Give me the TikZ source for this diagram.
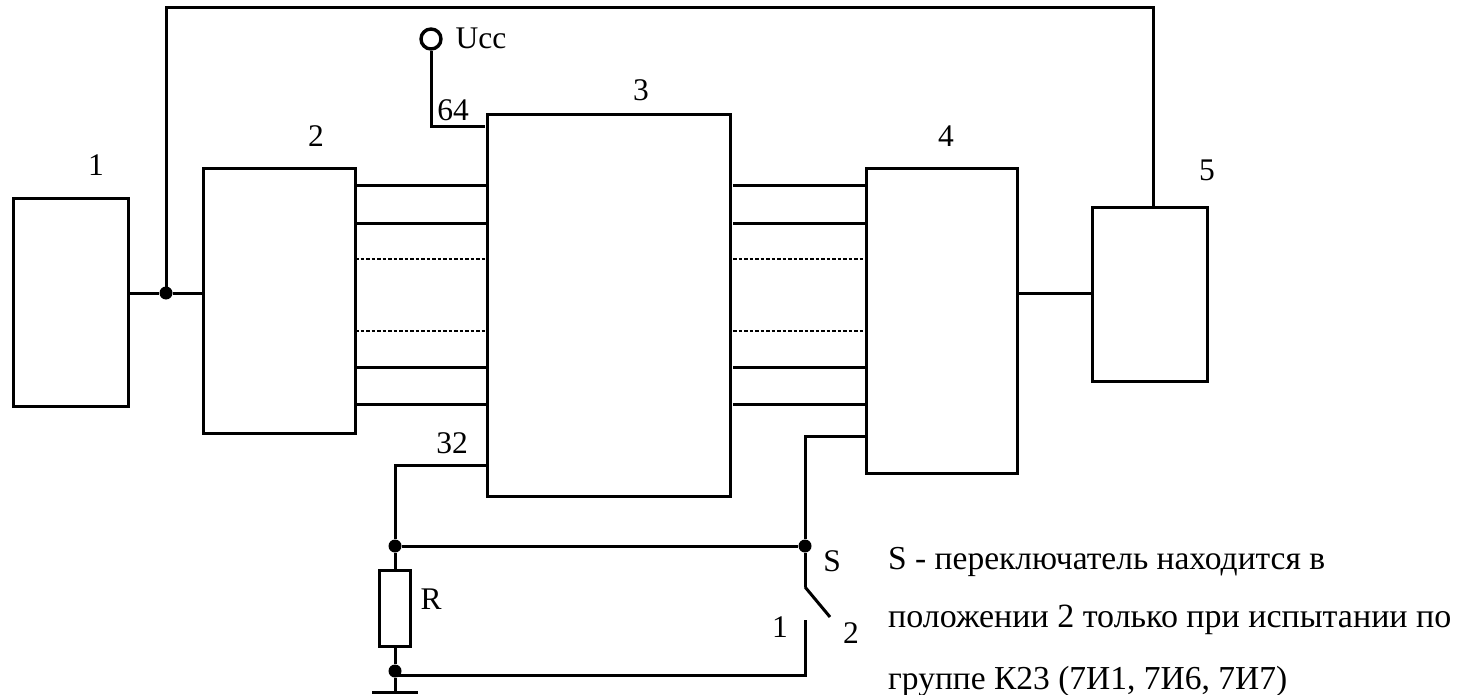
\documentclass[tikz,border=0pt]{standalone}
\usepackage{fontspec}
\setmainfont{Liberation Serif}
\newcommand{\lbl}{\fontsize{31.5}{33}\selectfont}
\newcommand{\dsc}{\fontsize{33.5}{36}\selectfont}
\tikzset{
  x=1pt,y=-1pt,
  blockbox/.style={draw=black,line width=3pt,inner sep=0pt,rectangle},
  wire/.style={draw=black,line width=3pt},
  bus/.style={draw=black,line width=3pt},
  busdash/.style={draw=black,line width=1.8pt,dash pattern=on 3.5pt off 2pt},
  junction/.style={circle,fill=black,inner sep=0pt,minimum size=13pt},
  terminal/.style={circle,draw=black,line width=3.4pt,fill=white,inner sep=0pt,minimum size=20pt},
  txt/.style={font=\lbl,inner sep=0pt,text=black},
  dtxt/.style={font=\dsc,inner sep=0pt,text=black,anchor=base west},
}
\begin{document}
\begin{tikzpicture}[line cap=butt]
\useasboundingbox[fill=white] (0,0) rectangle (1463,695);
% blocks
\coordinate (b1a) at (13,198);  \coordinate (b1b) at (128,406);
\coordinate (b2a) at (203,169); \coordinate (b2b) at (355,433);
\coordinate (b3a) at (487,115); \coordinate (b3b) at (730,496);
\coordinate (b4a) at (866,169); \coordinate (b4b) at (1017,473);
\coordinate (b5a) at (1092,207);\coordinate (b5b) at (1207,381);
\draw[blockbox] (b1a) rectangle (b1b);
\draw[blockbox] (b2a) rectangle (b2b);
\draw[blockbox] (b3a) rectangle (b3b);
\draw[blockbox] (b4a) rectangle (b4b);
\draw[blockbox] (b5a) rectangle (b5b);
% buses
\foreach \y in {186,223,367,404}{
  \draw[bus] (355,\y) -- (487,\y);
  \draw[bus] (733,\y) -- (866,\y);
}
\foreach \y in {259,331}{
  \draw[busdash] (355,\y) -- (487,\y);
  \draw[busdash] (733,\y) -- (866,\y);
}
% wires
\node[junction] (j1) at (166,293) {};
\coordinate (t1) at (166,8); \coordinate (t2) at (1153,8); \coordinate (t3) at (1153,207);
\draw[wire] (128,293) -- (j1) -- (203,293);
\draw[wire,line join=miter] (j1.center) -- (t1) -- (t2) -- (t3);
\draw[wire] (1017,293) -- (1092,293);
\node[terminal] (ucc) at (431,39) {};
\coordinate (u1) at (431,127); \coordinate (u2) at (485,127);
\draw[wire] (ucc) -- (u1) -- (u2);
\node[junction] (jr) at (395,546) {};
\node[junction] (js) at (805,546) {};
\node[junction] (jg) at (395,671) {};
\coordinate (jg1) at (395,675);
\coordinate (p32) at (487,465); \coordinate (c32) at (395,465);
\draw[wire] (p32) -- (c32) -- (jr);
\draw[wire] (jr) -- (js);
\coordinate (p4) at (866,436); \coordinate (c4) at (805,436);
\draw[wire] (p4) -- (c4) -- (js);
\coordinate (sw1) at (805,587); \coordinate (sw2) at (830,617);
\draw[wire] (js) -- (sw1);
\draw[wire] (sw1) -- (sw2);
\coordinate (ct) at (805,620); \coordinate (cb) at (805,675);
\draw[wire] (ct) -- (cb) -- (jg1);
% resistor
\node[blockbox,minimum width=31pt,minimum height=76pt] (res) at (395,608) {};
\draw[wire] (jr) -- (res.north);
\draw[wire] (res.south) -- (jg);
\coordinate (gnd) at (395,692); \coordinate (gl) at (372,692); \coordinate (gr) at (418,692);
\draw[wire] (jg) -- (gnd);
\draw[wire] (gl) -- (gr);
% labels
\node[txt] (n1) at (96,165) {1};
\node[txt] (n2) at (316,136) {2};
\node[txt] (n3) at (641,90) {3};
\node[txt] (n4) at (946,136) {4};
\node[txt] (n5) at (1207,170) {5};
\node[txt] (nu) at (481,38) {Ucc};
\node[txt] (n64) at (453,110) {64};
\node[txt] (n32) at (452,443) {32};
\node[txt] (nr) at (431,599) {R};
\node[txt] (ns) at (832,561) {S};
\node[txt] (np1) at (780,627) {1};
\node[txt] (np2) at (851,633) {2};
\node[dtxt] (d1) at (888,569) {S - переключатель находится в};
\node[dtxt] (d2) at (888,627) {\fontsize{34}{36}\selectfont положении 2 только при испытании по};
\node[dtxt] (d3) at (888,689) {группе К23 (7И1, 7И6, 7И7)};
\end{tikzpicture}
\end{document}
